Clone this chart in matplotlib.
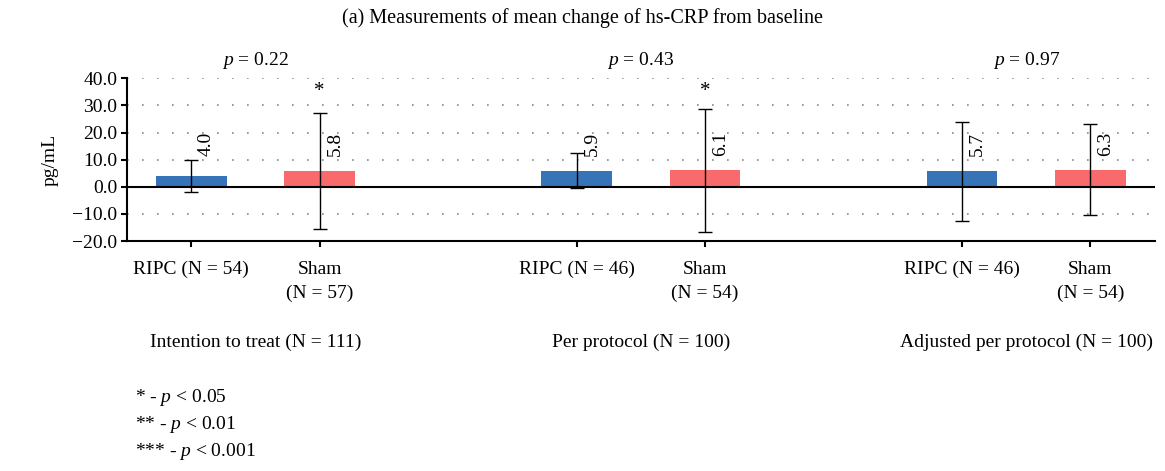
import numpy as np
import matplotlib
matplotlib.use('Agg')
import matplotlib.pyplot as plt

plt.rcParams['font.family'] = ['Liberation Serif', 'DejaVu Serif']
plt.rcParams['mathtext.fontset'] = 'custom'
plt.rcParams['mathtext.rm'] = 'Liberation Serif'
plt.rcParams['mathtext.it'] = 'Liberation Serif:italic'

# data
bar_labels = ['RIPC (N = 54)', 'Sham\n(N = 57)',
              'RIPC (N = 46)', 'Sham\n(N = 54)',
              'RIPC (N = 46)', 'Sham\n(N = 54)']
means = [4.0, 5.8, 5.9, 6.1, 5.7, 6.3]
errors = [5.9, 21.5, 6.5, 22.6, 18.2, 16.8]
stars = ['', '*', '', '*', '', '']
groups = ['Intention to treat (N = 111)', 'Per protocol (N = 100)',
          'Adjusted per protocol (N = 100)']
p_values = ['0.22', '0.43', '0.97']
yticks = [-20, -10, 0, 10, 20, 30, 40]

blue = '#3773B7'
red = '#F86A6C'
colors = [blue, red] * 3
xpos = np.array([0, 1, 3, 4, 6, 7])
fs = 14

fig = plt.figure(figsize=(11.65, 4.71), dpi=100)
ax = fig.add_axes([0.109, 0.488, 0.882, 0.346])

ax.bar(xpos, means, width=0.55, color=colors, zorder=2)
ax.errorbar(xpos, means, yerr=errors, fmt='none', ecolor='black',
            elinewidth=1, capsize=5, capthick=1, zorder=3)
ax.axhline(0, color='black', lw=1.5, zorder=4)

for x, m, s in zip(xpos, means, stars):
    ax.text(x + 0.12, 11.5, f'{m:.1f}', rotation=90, ha='center', va='bottom',
            fontsize=fs)
    if s:
        ax.text(x, 31.5, s, ha='center', va='bottom', fontsize=fs + 1)

ax.set_xlim(-0.5, 7.5)
ax.set_ylim(-20, 40)
ax.set_yticks(yticks)
ax.set_yticklabels([f'{t:.1f}'.replace('-', '\u2212') for t in yticks], fontsize=fs)
ax.set_xticks(xpos)
ax.set_xticklabels(bar_labels, fontsize=fs, linespacing=1.55)
ax.tick_params(axis='both', direction='out', length=4, width=1.5, pad=3)
ax.tick_params(axis='x', pad=10)
ax.grid(axis='y', linestyle=(0, (1, 8)), color='#888888', lw=1.2, zorder=0)
for side in ['top', 'right']:
    ax.spines[side].set_visible(False)
for side in ['left', 'bottom']:
    ax.spines[side].set_linewidth(1.5)
ax.set_ylabel('pg/mL', fontsize=fs, labelpad=10)

for i, (g, p) in enumerate(zip(groups, p_values)):
    xc = (xpos[2 * i] + xpos[2 * i + 1]) / 2
    ax.text(xc, 42.5, f'$p$ = {p}', ha='center', va='bottom', fontsize=fs)
    ax.annotate(g, xy=(xc, 0), xycoords=('data', 'axes fraction'),
                xytext=(0, -73), textcoords='offset points', ha='center',
                va='center', fontsize=fs)

fig.text(0.5, 0.962, '(a) Measurements of mean change of hs-CRP from baseline',
         ha='center', va='center', fontsize=fs + 0.5)
for k, t in enumerate(['* - $p$ < 0.05', '** - $p$ < 0.01', '*** - $p$ < 0.001']):
    fig.text(0.116, 1 - (397 + 27.5 * k) / 471, t, ha='left', va='center',
             fontsize=fs)

fig.savefig('out.png', dpi=100)
